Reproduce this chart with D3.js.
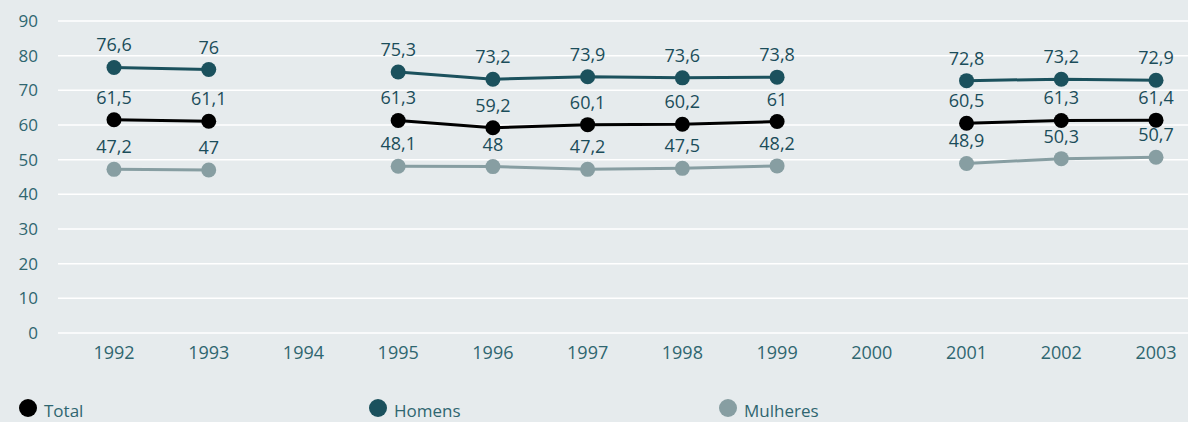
<!DOCTYPE html>
<html>
<head>
<meta charset="utf-8">
<script src="https://cdn.jsdelivr.net/npm/d3@7"></script>
<style>
  html, body { margin: 0; padding: 0; background: #e6ebed; }
  svg { display: block; font-family: "Open Sans", "Noto Sans", sans-serif; }
</style>
</head>
<body>
<div id="chart"></div>
<script>
// Data
const years = ['1992', '1993', '1994', '1995', '1996', '1997', '1998', '1999', '2000', '2001', '2002', '2003'];
const total = [61.5, 61.1, null, 61.3, 59.2, 60.1, 60.2, 61, null, 60.5, 61.3, 61.4];
const homens = [76.6, 76, null, 75.3, 73.2, 73.9, 73.6, 73.8, null, 72.8, 73.2, 72.9];
const mulheres = [47.2, 47, null, 48.1, 48, 47.2, 47.5, 48.2, null, 48.9, 50.3, 50.7];
const yTicks = [0, 10, 20, 30, 40, 50, 60, 70, 80, 90];

const series = [
  { name: 'Total', values: total, color: '#000000', labelColor: '#1b4d5a' },
  { name: 'Homens', values: homens, color: '#1b515d', labelColor: '#1b4d5a' },
  { name: 'Mulheres', values: mulheres, color: '#879ea2', labelColor: '#1b4d5a' }
];

const width = 1188;
const height = 422;

const svg = d3.select('#chart')
  .append('svg')
  .attr('width', width)
  .attr('height', height);

// Scales
const x = d3.scalePoint()
  .domain(years)
  .range([114, 1156]);

const y = d3.scaleLinear()
  .domain([0, 90])
  .range([333, 21]);

// Gridlines
svg.append('g')
  .selectAll('line')
  .data(yTicks)
  .join('line')
  .attr('x1', 58)
  .attr('x2', width)
  .attr('y1', d => y(d))
  .attr('y2', d => y(d))
  .attr('stroke', '#ffffff')
  .attr('stroke-width', 1.5);

// Y axis labels
svg.append('g')
  .selectAll('text')
  .data(yTicks)
  .join('text')
  .attr('x', 38)
  .attr('y', d => y(d))
  .attr('dy', '0.35em')
  .attr('text-anchor', 'end')
  .attr('font-size', '17px')
  .attr('fill', '#2f6670')
  .text(d => d);

// X axis labels
svg.append('g')
  .selectAll('text')
  .data(years)
  .join('text')
  .attr('x', d => x(d))
  .attr('y', 359)
  .attr('text-anchor', 'middle')
  .attr('font-size', '18px')
  .attr('fill', '#2f6670')
  .text(d => d);

const line = d3.line()
  .defined(d => d.v != null)
  .x(d => x(d.year))
  .y(d => y(d.v));

const fmt = v => String(v).replace('.', ',');

// Draw series: lines first, then points, then labels
series.forEach(s => {
  const pts = years.map((year, i) => ({ year, v: s.values[i] }));
  const g = svg.append('g');

  g.append('path')
    .datum(pts)
    .attr('d', line)
    .attr('fill', 'none')
    .attr('stroke', s.color)
    .attr('stroke-width', 3);

  g.selectAll('circle')
    .data(pts.filter(d => d.v != null))
    .join('circle')
    .attr('cx', d => x(d.year))
    .attr('cy', d => y(d.v))
    .attr('r', 7.5)
    .attr('fill', s.color);

  g.selectAll('text')
    .data(pts.filter(d => d.v != null))
    .join('text')
    .attr('x', d => x(d.year))
    .attr('y', d => y(d.v) - 16)
    .attr('text-anchor', 'middle')
    .attr('font-size', '18px')
    .attr('fill', s.labelColor)
    .text(d => fmt(d.v));
});

// Legend
const legendX = [28, 378, 728];
const legend = svg.append('g')
  .selectAll('g')
  .data(series)
  .join('g')
  .attr('transform', (d, i) => `translate(${legendX[i]}, 408)`);

legend.append('circle')
  .attr('r', 9)
  .attr('fill', d => d.color);

legend.append('text')
  .attr('x', 16)
  .attr('y', 0)
  .attr('dy', '0.5em')
  .attr('font-size', '17px')
  .attr('fill', '#2f6670')
  .text(d => d.name);
</script>
</body>
</html>
